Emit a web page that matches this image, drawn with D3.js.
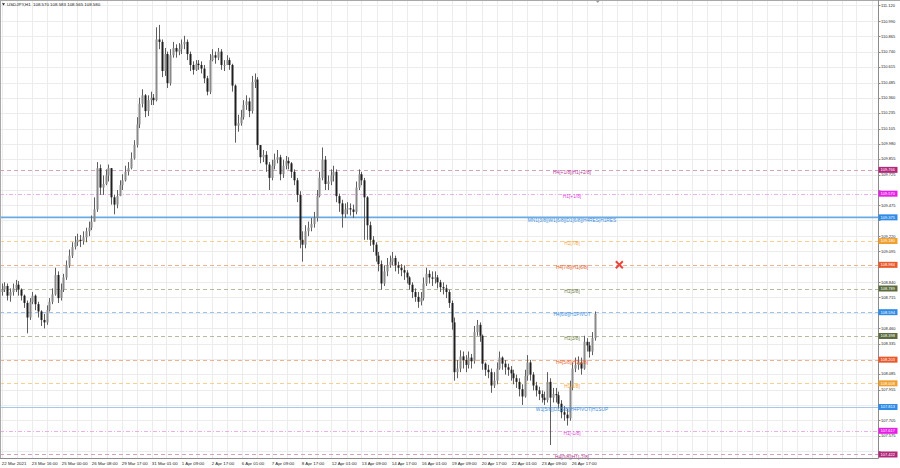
<!DOCTYPE html>
<html><head><meta charset="utf-8">
<script src="https://cdn.jsdelivr.net/npm/d3@7"></script>
<style>html,body{margin:0;padding:0;background:#fff;}svg{display:block;font-family:"Liberation Sans",Arial,sans-serif;}</style>
</head><body>
<svg id="c" width="900" height="468"></svg>
<script>
// ---- data (USDJPY, each candle = 3 H1 bars) ----
const opens = [108.76,108.78,108.81,108.73,108.76,108.79,108.82,108.78,108.73,108.67,
108.55,108.68,108.73,108.66,108.60,108.53,108.51,108.61,108.68,108.74,
108.90,108.71,108.78,108.88,108.98,109.06,109.13,109.17,109.19,109.18,
109.21,109.26,109.29,109.34,109.44,109.78,109.62,109.65,109.72,109.78,
109.54,109.48,109.55,109.64,109.68,109.75,109.78,109.86,109.97,110.14,
110.31,110.38,110.25,110.34,110.36,110.34,110.84,110.82,110.58,110.72,
110.48,110.71,110.77,110.74,110.76,110.80,110.82,110.72,110.63,110.59,
110.64,110.63,110.60,110.52,110.41,110.67,110.71,110.69,110.74,110.63,
110.63,110.67,110.63,110.46,110.13,110.15,110.20,110.30,110.33,110.25,
110.49,110.51,109.97,109.87,109.89,109.81,109.70,109.80,109.85,109.87,
109.73,109.80,109.84,109.82,109.75,109.68,109.56,109.19,109.15,109.26,
109.29,109.32,109.37,109.55,109.70,109.85,109.65,109.67,109.72,109.75,
109.55,109.49,109.40,109.44,109.45,109.44,109.42,109.62,109.73,109.68,
109.54,109.31,109.19,109.15,109.06,108.99,108.83,108.93,108.98,109.01,
109.04,108.98,108.96,108.94,108.92,108.88,108.82,108.76,108.72,108.68,
108.71,108.83,108.91,108.88,108.87,108.88,108.84,108.80,108.79,108.76,
108.67,108.51,108.10,108.13,108.23,108.20,108.16,108.22,108.19,108.43,
108.49,108.40,108.17,108.12,108.10,107.99,108.03,108.13,108.22,108.17,
108.14,108.12,108.09,108.05,108.02,107.96,107.90,108.07,108.18,108.08,
107.99,107.95,107.92,107.89,107.87,108.02,107.89,107.92,107.91,107.84,
107.77,107.75,107.72,107.98,108.13,108.16,108.18,108.13,108.35,108.32,
108.27,108.38];
const highs = [108.83,108.84,108.83,108.79,108.83,108.86,108.85,108.79,108.74,108.69,
108.71,108.76,108.74,108.68,108.61,108.58,108.65,108.71,108.79,108.96,
108.93,108.83,108.91,109.02,109.11,109.17,109.22,109.24,109.23,109.26,
109.29,109.34,109.39,109.54,109.83,109.81,109.72,109.77,109.81,109.78,
109.56,109.60,109.68,109.73,109.80,109.83,109.91,110.01,110.20,110.36,
110.43,110.39,110.38,110.41,110.39,110.94,110.96,110.84,110.77,110.74,
110.76,110.82,110.80,110.81,110.84,110.87,110.84,110.74,110.66,110.67,
110.67,110.66,110.63,110.54,110.72,110.76,110.74,110.77,110.76,110.67,
110.71,110.69,110.64,110.47,110.22,110.26,110.34,110.38,110.36,110.54,
110.56,110.53,109.95,109.93,109.92,109.83,109.85,109.90,109.93,109.89,
109.85,109.88,109.87,109.83,109.77,109.70,109.59,109.26,109.31,109.34,
109.37,109.42,109.60,109.75,109.95,109.88,109.72,109.77,109.80,109.77,
109.57,109.52,109.49,109.50,109.49,109.48,109.67,109.77,109.75,109.70,
109.55,109.34,109.22,109.17,109.09,109.02,108.98,109.04,109.06,109.09,
109.06,109.01,108.99,108.98,108.94,108.89,108.84,108.79,108.76,108.76,
108.88,108.96,108.94,108.93,108.93,108.90,108.86,108.84,108.82,108.78,
108.69,108.55,108.20,108.28,108.27,108.24,108.27,108.25,108.48,108.53,
108.51,108.41,108.18,108.16,108.13,108.10,108.18,108.27,108.23,108.20,
108.17,108.15,108.12,108.08,108.05,108.00,108.12,108.24,108.20,108.10,
108.02,107.98,107.95,107.94,108.10,108.05,107.97,107.97,107.94,107.87,
107.82,107.80,108.03,108.18,108.22,108.23,108.22,108.40,108.38,108.35,
108.43,108.60];
const lows = [108.73,108.76,108.69,108.68,108.73,108.76,108.73,108.69,108.63,108.42,
108.53,108.66,108.61,108.55,108.48,108.46,108.49,108.60,108.66,108.73,
108.67,108.69,108.76,108.86,108.96,109.04,109.11,109.14,109.13,109.15,
109.17,109.22,109.27,109.35,109.42,109.56,109.56,109.64,109.67,109.48,
109.40,109.45,109.55,109.60,109.67,109.72,109.77,109.85,109.95,110.11,
110.28,110.20,110.21,110.30,110.30,110.33,110.76,110.53,110.54,110.44,
110.46,110.69,110.69,110.71,110.72,110.76,110.67,110.58,110.55,110.58,
110.59,110.56,110.48,110.38,110.39,110.66,110.64,110.67,110.59,110.58,
110.63,110.59,110.41,109.99,110.08,110.13,110.18,110.26,110.20,110.23,
110.44,109.93,109.82,109.83,109.75,109.60,109.68,109.77,109.82,109.68,
109.70,109.77,109.77,109.70,109.64,109.50,109.12,109.01,109.12,109.22,
109.26,109.29,109.34,109.54,109.68,109.60,109.60,109.64,109.67,109.50,
109.42,109.29,109.37,109.40,109.39,109.37,109.40,109.60,109.64,109.19,
109.19,109.14,109.09,109.01,108.93,108.78,108.81,108.89,108.96,108.98,
108.93,108.91,108.89,108.86,108.83,108.78,108.71,108.68,108.63,108.65,
108.69,108.81,108.83,108.81,108.83,108.79,108.76,108.74,108.71,108.63,
108.45,108.03,108.05,108.10,108.13,108.10,108.13,108.13,108.17,108.40,
108.35,108.12,108.07,108.05,107.93,107.97,108.00,108.12,108.12,108.08,
108.07,108.03,108.00,107.97,107.90,107.83,107.89,108.03,108.03,107.95,
107.90,107.87,107.85,107.83,107.85,107.50,107.85,107.85,107.80,107.72,
107.70,107.66,107.70,107.95,108.10,108.12,108.08,108.12,108.27,108.22,
108.24,108.36];
const closes = [108.78,108.81,108.73,108.76,108.79,108.82,108.78,108.73,108.67,108.55,
108.68,108.73,108.66,108.60,108.53,108.51,108.61,108.68,108.74,108.90,
108.71,108.78,108.88,108.98,109.06,109.13,109.17,109.19,109.18,109.21,
109.26,109.29,109.34,109.44,109.78,109.62,109.65,109.72,109.78,109.54,
109.48,109.55,109.64,109.68,109.75,109.78,109.86,109.97,110.14,110.31,
110.38,110.25,110.34,110.36,110.34,110.84,110.82,110.58,110.72,110.48,
110.71,110.77,110.74,110.76,110.80,110.82,110.72,110.63,110.59,110.64,
110.63,110.60,110.52,110.41,110.67,110.71,110.69,110.74,110.63,110.63,
110.67,110.63,110.46,110.13,110.15,110.20,110.30,110.33,110.25,110.49,
110.51,109.97,109.87,109.89,109.81,109.70,109.80,109.85,109.87,109.73,
109.80,109.84,109.82,109.75,109.68,109.56,109.19,109.15,109.26,109.29,
109.32,109.37,109.55,109.70,109.85,109.65,109.67,109.72,109.75,109.55,
109.49,109.40,109.44,109.45,109.44,109.42,109.62,109.73,109.68,109.54,
109.31,109.19,109.15,109.06,108.99,108.83,108.93,108.98,109.01,109.04,
108.98,108.96,108.94,108.92,108.88,108.82,108.76,108.72,108.68,108.71,
108.83,108.91,108.88,108.87,108.88,108.84,108.80,108.79,108.76,108.67,
108.51,108.10,108.13,108.23,108.20,108.16,108.22,108.19,108.43,108.49,
108.40,108.17,108.12,108.10,107.99,108.03,108.13,108.22,108.17,108.14,
108.12,108.09,108.05,108.02,107.96,107.90,108.07,108.18,108.08,107.99,
107.95,107.92,107.89,107.87,108.02,107.89,107.92,107.91,107.84,107.77,
107.75,107.72,107.98,108.13,108.16,108.18,108.13,108.35,108.32,108.27,
108.38,108.58];
const hoursPerCandle = 3;

const levelPrices = [109.766,109.570,109.375,109.180,108.984,108.789,108.594,108.398,108.203,108.008,107.813,107.617,107.422];
const levelNames = ["H4[+1/8]|H1[+2/8]","H1[+1/8]","MN1[3/8]|W1[6/8]|D1[6/8]|H4RES|H1RES","H1[7/8]","H4[7/8]|H1[6/8]","H1[5/8]","H4[6/8]|H1PIVOT","H1[3/8]","H4[5/8]|H1[2/8]","H1[1/8]","W1[5/8]|D1[5/8]|H4PIVOT|H1SUP","H1[-1/8]","H4[0/8]|H1[-2/8]"];

const priceTicks = ["111.120","110.990","110.865","110.740","110.615","110.485","110.360","110.235","110.105","109.980","109.855","109.725","109.600","109.475","109.350","109.220","109.095","108.965","108.840","108.715","108.590","108.460","108.335","108.205","108.085","107.955","107.830","107.705","107.575","107.450"];
const timeTicks = ["22 Mar 2021","23 Mar 16:00","25 Mar 00:00","26 Mar 08:00","29 Mar 17:00","31 Mar 01:00","1 Apr 09:00","2 Apr 17:00","6 Apr 01:00","7 Apr 09:00","8 Apr 17:00","12 Apr 01:00","13 Apr 09:00","14 Apr 17:00","16 Apr 01:00","19 Apr 09:00","20 Apr 17:00","22 Apr 01:00","23 Apr 09:00","26 Apr 17:00"];
const barsPerTimeTick = 32;
const header = ["USDJPY,H1", "108.570", "108.583", "108.565", "108.580"];
const markerBar = 659, markerPrice = 108.984;

// ---- styles ----
const lineStyle = [
 {c:"#d3a3c6",d:"4,3",w:1,t:"#b83a96",b:"#b3277a"},
 {c:"#eab0ea",d:"4,2,1,2",w:1,t:"#e040e0",b:"#e61ee6"},
 {c:"#6aabe4",d:null,w:1.6,t:"#3a8ee0",b:"#2f8be6"},
 {c:"#f5d092",d:"4,3",w:1,t:"#f0a030",b:"#f0a030"},
 {c:"#efb291",d:"4,3",w:1,t:"#e8602a",b:"#e8582a"},
 {c:"#b8b99e",d:"4,3",w:1,t:"#6b7a3a",b:"#5b6b3c"},
 {c:"#9cc3ec",d:"4,3",w:1,t:"#3a8ee0",b:"#2f8be6"},
 {c:"#b8b99e",d:"4,3",w:1,t:"#6b7a3a",b:"#5b6b3c"},
 {c:"#efb291",d:"4,3",w:1,t:"#e8602a",b:"#e8582a"},
 {c:"#f5d092",d:"4,3",w:1,t:"#f0a030",b:"#f0a030"},
 {c:"#a6c6ea",d:null,w:1,t:"#3a8ee0",b:"#2f8be6"},
 {c:"#eab0ea",d:"4,2,1,2",w:1,t:"#e040e0",b:"#e61ee6"},
 {c:"#d3a3c6",d:"4,3",w:1,t:"#b83a96",b:"#b3277a"}
];

const plotR = 878.5, plotB = 458.5;
const svg = d3.select("#c");
const x = d3.scaleLinear().domain([0, 928]).range([1.5, 871.5]);
const y = d3.scaleLinear().domain([107.389, 111.165]).range([plotB, 0]);

svg.append("rect").attr("width",900).attr("height",468).attr("fill","#fff");

// grid
const g = svg.append("g");
d3.range(0, 59).forEach(k=>{
  const gx = Math.round(x(k*16)) + 0.5;
  if (gx < plotR) g.append("line").attr("x1",gx).attr("x2",gx).attr("y1",0).attr("y2",plotB).attr("stroke","#ececec");
});
priceTicks.forEach(t=>{
  const gy = Math.round(y(+t)) + 0.5;
  g.append("line").attr("x1",0).attr("x2",plotR).attr("y1",gy).attr("y2",gy).attr("stroke","#ececec");
});

// levels
levelPrices.forEach((p,i)=>{
  const s = lineStyle[i];
  const ly = s.w!==1 ? y(p) : Math.round(y(p))+0.5;
  svg.append("line").attr("x1",0).attr("x2",plotR).attr("y1",ly).attr("y2",ly)
    .attr("stroke",s.c).attr("stroke-width",s.w).attr("stroke-dasharray",s.d);
});

// candles
const cg = svg.append("g");
closes.forEach((c,j)=>{
  const o = opens[j], h = highs[j], l = lows[j];
  const cx = Math.round(x(j*hoursPerCandle)) + 0.5;
  const top = Math.max(h,o,c), bot = Math.min(l,o,c);
  cg.append("line").attr("x1",cx).attr("x2",cx).attr("y1",y(top)).attr("y2",y(bot))
    .attr("stroke","#5e5e5e").attr("stroke-width",1);
  const y1 = y(Math.max(o,c)), y2 = y(Math.min(o,c));
  cg.append("rect").attr("x",cx-1).attr("width",2)
    .attr("y",y1).attr("height",Math.max(1,y2-y1))
    .attr("fill", c>=o ? "#8a8a8a" : "#1e1e1e");
});

// level labels
levelPrices.forEach((p,i)=>{
  svg.append("text").attr("x",572).attr("y",y(p)+4.2).attr("text-anchor","middle")
    .attr("font-size",4.8).attr("fill",lineStyle[i].t).text(levelNames[i]);
});

// marker X
const mx = x(markerBar), my = y(markerPrice);
svg.append("path").attr("d",`M${mx-3.5},${my-3.5}L${mx+3.5},${my+3.5}M${mx+3.5},${my-3.5}L${mx-3.5},${my+3.5}`)
  .attr("stroke","#e8453c").attr("stroke-width",2);

// frame
svg.append("line").attr("x1",0).attr("x2",900).attr("y1",0.5).attr("y2",0.5).attr("stroke","#a8a8a8");
svg.append("line").attr("x1",0.5).attr("x2",0.5).attr("y1",0).attr("y2",plotB).attr("stroke","#a8a8a8");
svg.append("line").attr("x1",plotR).attr("x2",plotR).attr("y1",0).attr("y2",plotB).attr("stroke","#8c8c8c");
svg.append("line").attr("x1",0).attr("x2",plotR).attr("y1",plotB).attr("y2",plotB).attr("stroke","#8c8c8c");
svg.append("path").attr("d",`M${x(636)-2},0.5L${x(636)+2},0.5L${x(636)},3Z`).attr("fill","#9a9a9a");

// price axis (labels that sit under a level price box are hidden, as in the terminal)
priceTicks.forEach(t=>{
  const ty = y(+t);
  svg.append("line").attr("x1",plotR).attr("x2",plotR+2).attr("y1",Math.round(ty)+0.5).attr("y2",Math.round(ty)+0.5).attr("stroke","#8c8c8c");
  const covered = levelPrices.some(p => Math.abs(y(p)-ty) < 4.5);
  if (!covered) svg.append("text").attr("x",881).attr("y",ty+1.4).attr("font-size",4).attr("fill","#222").text(t);
});
levelPrices.forEach((p,i)=>{
  const by = y(p);
  svg.append("rect").attr("x",plotR).attr("y",by-3).attr("width",19).attr("height",6).attr("fill",lineStyle[i].b);
  svg.append("text").attr("x",880.5).attr("y",by+1.4).attr("font-size",4).attr("fill","#fff").text(p.toFixed(3));
});

// time axis
timeTicks.forEach((t,k)=>{
  svg.append("text").attr("x",x(k*barsPerTimeTick)+0.3).attr("y",464.8).attr("font-size",4.4).attr("fill","#222").text(t);
});

// header
svg.append("path").attr("d","M2,3.2L5,3.2L3.5,5.4Z").attr("fill","#222");
svg.append("text").attr("x",7).attr("y",6.3).attr("font-size",4.4).attr("fill","#222")
  .attr("xml:space","preserve").text(header[0]+"  "+header.slice(1).join(" "));
</script>
</body></html>
